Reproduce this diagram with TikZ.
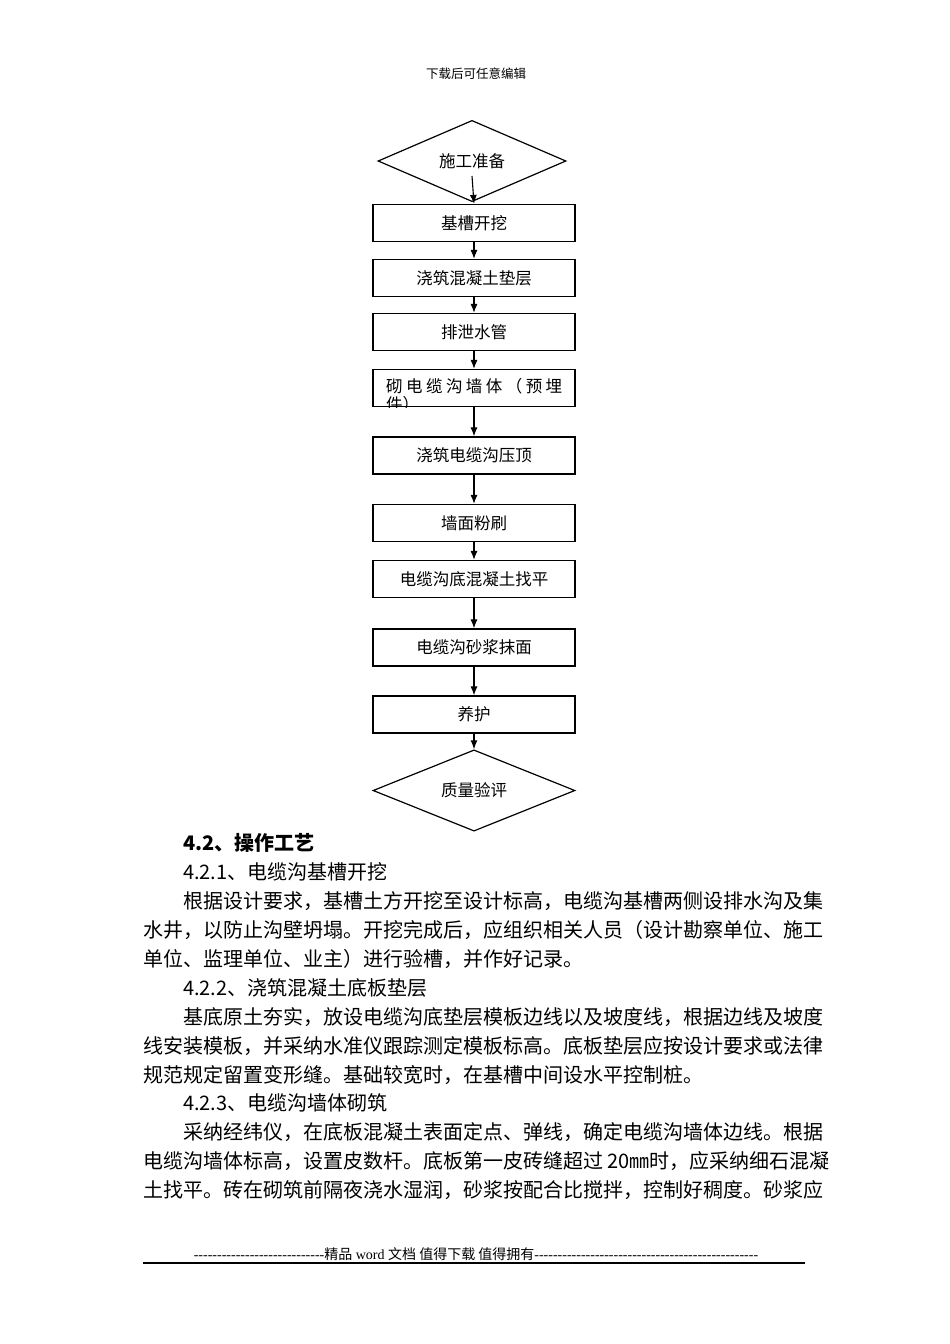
\documentclass[tikz,border=0pt]{standalone}
\usepackage{fontspec}
\setmainfont{Liberation Serif}
\newfontfamily\cjk{Noto Sans CJK SC}
\usetikzlibrary{shapes.geometric,arrows.meta}
\newcommand\dashrun[1]{\foreach \i in {1,...,#1}{\char45}}

\begin{document}
\begin{tikzpicture}[x=1pt,y=-1pt]
		\tikzstyle{stepbox}=[rectangle,draw,line width=1.2pt,minimum width=202pt,minimum height=37pt,inner sep=0pt,font=\cjk\fontsize{16.5}{19}\selectfont]
		\tikzstyle{gate}=[diamond,draw,line width=1.2pt,inner sep=0pt,font=\cjk\fontsize{16.5}{19}\selectfont]
		\tikzstyle{arr}=[line width=1.1pt,-{Latex[length=9pt,width=7pt]}]
		\tikzstyle{para}=[anchor=west,inner sep=0pt,font=\cjk\fontsize{20}{24}\selectfont]

		\useasboundingbox[fill=white] (0,0) rectangle (950,1344);

		\node[inner sep=0pt,font=\cjk\fontsize{12.5}{14}\selectfont] (H) at (476,74) {下载后可任意编辑};

		% flow chart
		\node[gate,minimum width=188pt,minimum height=76pt] (D1) at (472,161) {施工准备};
		\node[stepbox] (B1) at (474,223) {基槽开挖};
		\node[stepbox] (B2) at (474,278) {浇筑混凝土垫层};
		\node[stepbox] (B3) at (474,332) {排泄水管};
		\node[stepbox] (B4) at (474,388) {};
		\node[stepbox] (B5) at (474,455.5) {浇筑电缆沟压顶};
		\node[stepbox] (B6) at (474,523) {墙面粉刷};
		\node[stepbox] (B7) at (474,579) {电缆沟底混凝土找平};
		\node[stepbox] (B8) at (474,647.5) {电缆沟砂浆抹面};
		\node[stepbox] (B9) at (474,714.5) {养护};
		\node[gate,minimum width=202pt,minimum height=63pt] (D2) at (474,790.5) {质量验评};

		\begin{scope}
			\clip (B4.south west) rectangle (B4.north east);
			\node[anchor=north west,inner sep=0pt,align=left,font=\cjk\fontsize{16.5}{18}\selectfont] (B4t) at (386,378)
				{\makebox[176pt][s]{砌\hfill 电\hfill 缆\hfill 沟\hfill 墙\hfill 体\hfill （\hfill 预\hfill 埋}\\件）};
		\end{scope}

		\draw[arr] ([yshift=-15pt]D1.center) -- (B1.north);
		\foreach \a/\b in {B1/B2,B2/B3,B3/B4,B4/B5,B5/B6,B6/B7,B7/B8,B8/B9,B9/D2}
			\draw[arr] (\a) -- (\b);

		% text below
		\node[para,font=\cjk\bfseries\fontsize{20}{24}\selectfont] (T0) at (183,843) {4.2、操作工艺};
		\node[para] (T1) at (183,872) {4.2.1、电缆沟基槽开挖};
		\node[para] (T2) at (183,901) {根据设计要求，基槽土方开挖至设计标高，电缆沟基槽两侧设排水沟及集};
		\node[para] (T3) at (143,930) {水井，以防止沟壁坍塌。开挖完成后，应组织相关人员（设计勘察单位、施工};
		\node[para] (T4) at (143,959) {单位、监理单位、业主）进行验槽，并作好记录。};
		\node[para] (T5) at (183,988) {4.2.2、浇筑混凝土底板垫层};
		\node[para] (T6) at (183,1017) {基底原土夯实，放设电缆沟底垫层模板边线以及坡度线，根据边线及坡度};
		\node[para] (T7) at (143,1046) {线安装模板，并采纳水准仪跟踪测定模板标高。底板垫层应按设计要求或法律};
		\node[para] (T8) at (143,1075) {规范规定留置变形缝。基础较宽时，在基槽中间设水平控制桩。};
		\node[para] (T9) at (183,1103) {4.2.3、电缆沟墙体砌筑};
		\node[para] (T10) at (183,1132) {采纳经纬仪，在底板混凝土表面定点、弹线，确定电缆沟墙体边线。根据};
		\node[para] (T11) at (143,1161) {电缆沟墙体标高，设置皮数杆。底板第一皮砖缝超过 20㎜时，应采纳细石混凝};
		\node[para] (T12) at (143,1190) {土找平。砖在砌筑前隔夜浇水湿润，砂浆按配合比搅拌，控制好稠度。砂浆应};

		% footer
		\node[inner sep=0pt,font=\fontsize{14}{16}\selectfont] (F) at (476,1254)
			{\dashrun{28}{\cjk 精品} word {\cjk 文档 值得下载 值得拥有}\dashrun{48}};
		\coordinate (FL) at (143,1263);
		\coordinate (FR) at (805,1263);
		\draw[line width=1.4pt] (FL) -- (FR);
	\end{tikzpicture}
\end{document}
